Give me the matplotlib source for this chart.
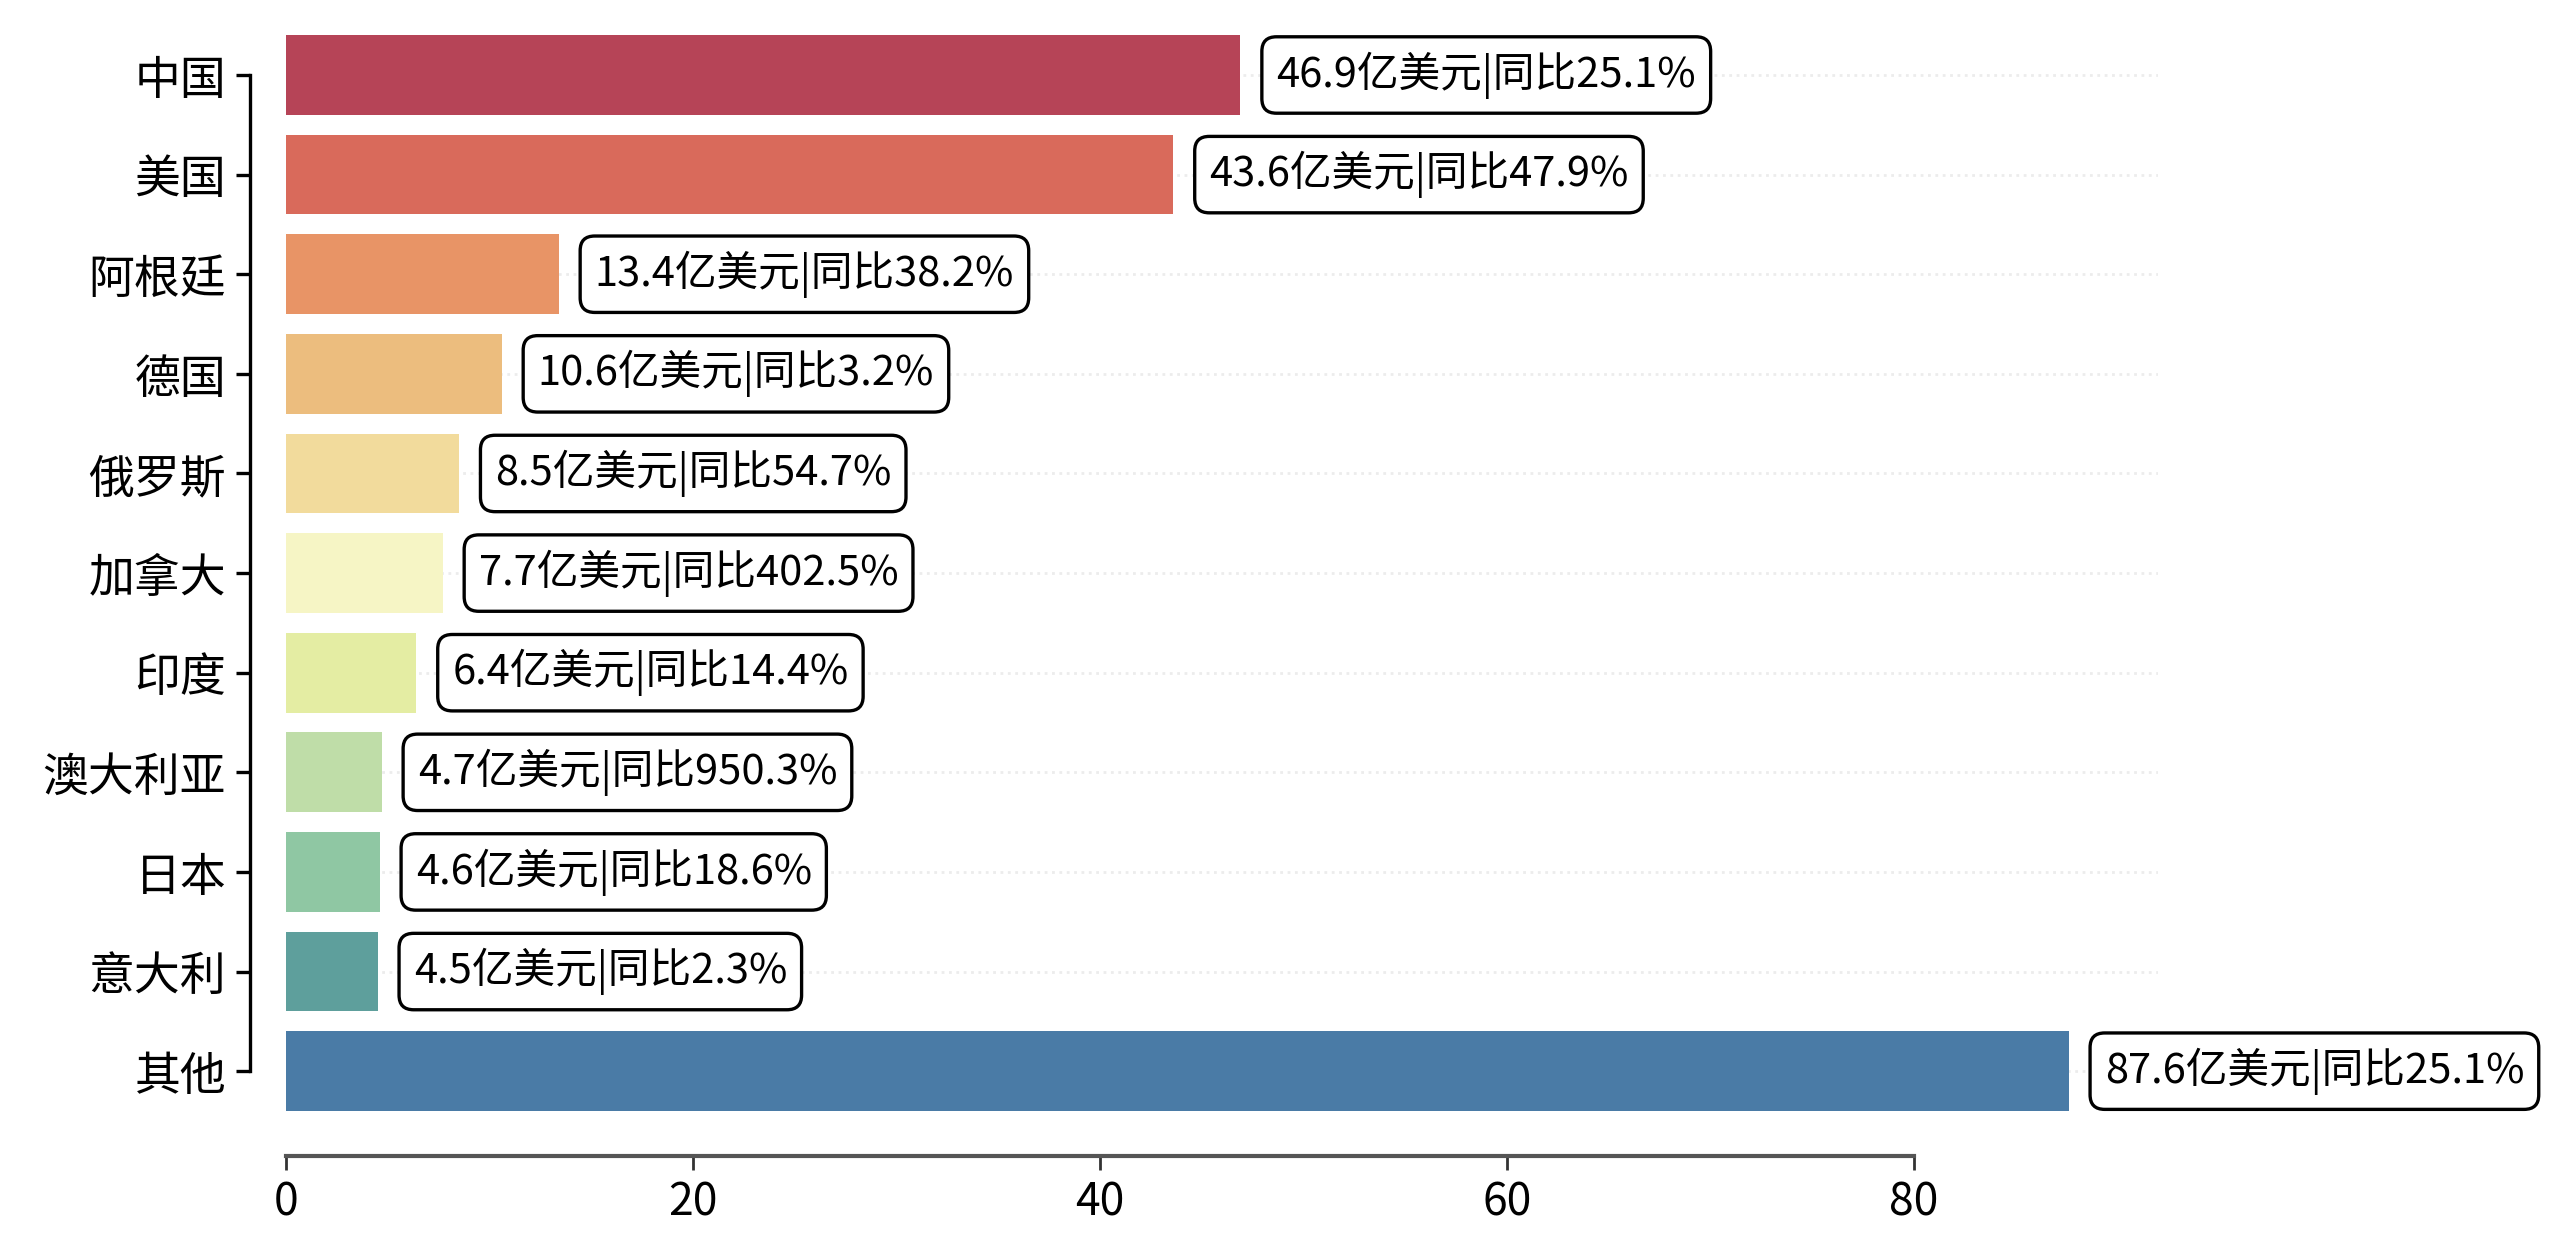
import matplotlib
matplotlib.use('Agg')
import matplotlib.pyplot as plt

plt.rcParams['font.family'] = ['Noto Sans CJK SC', 'DejaVu Sans']
plt.rcParams['xtick.labelsize'] = 16
plt.rcParams['ytick.labelsize'] = 16.5

# 数据
countries = ['中国', '美国', '阿根廷', '德国', '俄罗斯', '加拿大', '印度', '澳大利亚', '日本', '意大利', '其他']
amounts = [46.9, 43.6, 13.4, 10.6, 8.5, 7.7, 6.4, 4.7, 4.6, 4.5, 87.6]   # 亿美元
yoy = [25.1, 47.9, 38.2, 3.2, 54.7, 402.5, 14.4, 950.3, 18.6, 2.3, 25.1]  # 同比 %

colors = ['#B64457', '#D96A5B', '#E89466', '#ECBD7E', '#F2DB9C', '#F6F5C5',
          '#E4EDA3', '#BFDDA8', '#8FC7A3', '#5E9F9C', '#4A7BA6']

fig = plt.figure(figsize=(12.8, 6.24), dpi=200)
ax = fig.add_axes([0.1117, 0.0938, 0.7313, 0.894])

ypos = list(range(len(countries)))
ax.barh(ypos, amounts, height=0.8, color=colors, zorder=2)

for y, v, p in zip(ypos, amounts, yoy):
    ax.annotate(f'{v}亿美元|同比{p}%', xy=(v, y), xytext=(13, 0),
                textcoords='offset points', va='center', ha='left', fontsize=15,
                bbox=dict(boxstyle='round,pad=0.35', fc='white', ec='black', lw=1.2),
                zorder=4)

ax.set_xlim(0, 92)
ax.set_ylim(10.6, -0.6)
ax.set_yticks(ypos)
ax.set_yticklabels(countries)
ax.set_xticks([0, 20, 40, 60, 80])
ax.tick_params(axis='x', length=5, width=1.0, color='#333333')
ax.tick_params(axis='y', length=5, width=1.2)

ax.grid(axis='y', linestyle=':', color='#ececec', linewidth=1.0, zorder=0)
ax.set_axisbelow(True)

for s in ['top', 'right']:
    ax.spines[s].set_visible(False)
ax.spines['left'].set_position(('outward', 13))
ax.spines['left'].set_bounds(0, 10)
ax.spines['left'].set_linewidth(1.2)
ax.spines['bottom'].set_position(('outward', 9))
ax.spines['bottom'].set_bounds(0, 80)
ax.spines['bottom'].set_linewidth(1.5)
ax.spines['bottom'].set_color('#555555')

fig.savefig('out.png', dpi=200)
